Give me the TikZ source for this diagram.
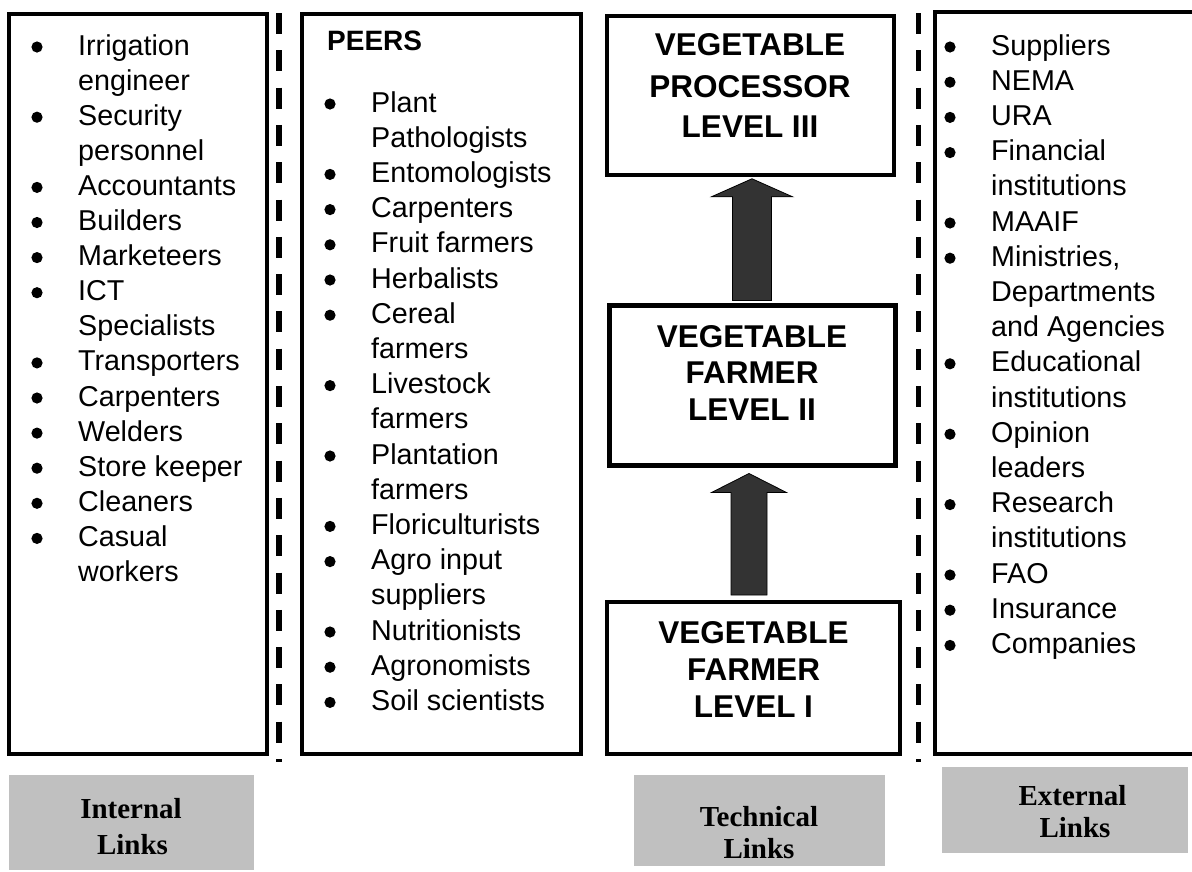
\documentclass[tikz,border=0pt]{standalone}
\usepackage{fontspec}
\setmainfont{Liberation Serif}
\newfontfamily\arialfont{Liberation Sans}
\usetikzlibrary{calc}
\definecolor{silvergray}{HTML}{C0C0C0}
\definecolor{arrowgray}{HTML}{333333}
\tikzset{
  frame/.style={draw=black, line width=4pt, inner sep=0pt, rectangle},
  divider/.style={draw=black, line width=5.5pt, dash pattern=on 21pt off 16.3pt},
  linkbox/.style={fill=silvergray, inner sep=0pt, rectangle},
  listitem/.style={anchor=base west, inner sep=0pt, font=\arialfont\fontsize{28.7}{35}\selectfont},
  bulletdot/.style={fill=black},
  boxtitle/.style={anchor=base, inner sep=0pt, font=\arialfont\bfseries\fontsize{31.5}{38}\selectfont},
  linklabel/.style={anchor=base, inner sep=0pt, font=\bfseries\fontsize{29}{34}\selectfont},
  blockarrow/.style={fill=arrowgray, draw=black, line width=0.8pt},
}
\begin{document}
\begin{tikzpicture}[x=1pt,y=-1pt]
\useasboundingbox (0,0) rectangle (1192,871);

% column frames
\node[frame, minimum width=258pt, minimum height=740pt] (internal) at (138,384) {};
\node[frame, minimum width=278.5pt, minimum height=740.5pt] (peers) at (441.25,383.75) {};
\node[frame, line width=3.5pt, minimum width=287pt, minimum height=159pt] (b3) at (750.5,95.5) {};
\node[frame, line width=5pt, minimum width=286pt, minimum height=160pt] (b4) at (752,385) {};
\node[frame, minimum width=293pt, minimum height=152pt] (b5) at (753.5,678) {};
\node[frame, minimum width=261.5pt, minimum height=742pt] (external) at (1065.25,383) {};

% dashed dividers
\coordinate (d1top) at (279,13);
\coordinate (d1bot) at (279,762);
\coordinate (d2top) at (918.5,13);
\coordinate (d2bot) at (918.5,762);
\draw[divider] (d1top) -- (d1bot);
\draw[divider] (d2top) -- (d2bot);

% block arrows
\filldraw[blockarrow] let \p1=(b4.north), \p2=(b3.south) in
  (\x1-19.5pt,\y1+2pt) -- (\x1-19.5pt,\y2-20pt) -- (\x1-40.5pt,\y2-20pt) -- (\x1,\y2-2pt)
  -- (\x1+40.5pt,\y2-20pt) -- (\x1+19.5pt,\y2-20pt) -- (\x1+19.5pt,\y1+2pt) -- cycle;
\filldraw[blockarrow] let \p1=($(b5.north)+(-4.5,0)$), \p2=(b4.south) in
  (\x1-18pt,\y1+5pt) -- (\x1-18pt,\y2-25pt) -- (\x1-37.5pt,\y2-25pt) -- (\x1,\y2-6pt)
  -- (\x1+37.5pt,\y2-25pt) -- (\x1+18pt,\y2-25pt) -- (\x1+18pt,\y1+5pt) -- cycle;

% internal list
\foreach \b/\t [count=\i from 0] in {1/Irrigation,0/engineer,1/Security,0/personnel,1/Accountants,1/Builders,1/Marketeers,1/ICT,0/Specialists,1/Transporters,1/Carpenters,1/Welders,1/Store keeper,1/Cleaners,1/Casual,0/workers}{
  \node[listitem] (ia\i) at (78,{55+35.1*\i}) {\t};
  \ifnum\b=1 \fill[bulletdot] ($(ia\i.base west)+(-41,-8)$) circle (5.6pt);\fi
}

% peers list
\node[boxtitle, anchor=base west, font=\arialfont\bfseries\fontsize{28}{34}\selectfont] (peerstitle) at (327,50) {PEERS};
\foreach \b/\t [count=\i from 0] in {1/Plant,0/Pathologists,1/Entomologists,1/Carpenters,1/Fruit farmers,1/Herbalists,1/Cereal,0/farmers,1/Livestock,0/farmers,1/Plantation,0/farmers,1/Floriculturists,1/Agro input,0/suppliers,1/Nutritionists,1/Agronomists,1/Soil scientists}{
  \node[listitem] (pa\i) at (371,{112+35.2*\i}) {\t};
  \ifnum\b=1 \fill[bulletdot] ($(pa\i.base west)+(-41,-8)$) circle (5.6pt);\fi
}

% external list
\foreach \b/\t [count=\i from 0] in {1/Suppliers,1/NEMA,1/URA,1/Financial,0/institutions,1/MAAIF,1/{Ministries,},0/Departments,0/and Agencies,1/Educational,0/institutions,1/Opinion,0/leaders,1/Research,0/institutions,1/FAO,1/Insurance,1/Companies}{
  \node[listitem] (ea\i) at (991,{55+35.2*\i}) {\t};
  \ifnum\b=1 \fill[bulletdot] ($(ea\i.base west)+(-41,-8)$) circle (5.6pt);\fi
}

% level box titles
\node[boxtitle] (t3a) at (750,55) {VEGETABLE};
\node[boxtitle] (t3b) at (750,97) {PROCESSOR};
\node[boxtitle] (t3c) at (750,137) {LEVEL III};
\node[boxtitle] (t4a) at (752,347) {VEGETABLE};
\node[boxtitle] (t4b) at (752,383.5) {FARMER};
\node[boxtitle] (t4c) at (752,420) {LEVEL II};
\node[boxtitle] (t5a) at (753.5,643) {VEGETABLE};
\node[boxtitle] (t5b) at (753.5,680) {FARMER};
\node[boxtitle] (t5c) at (753.5,717) {LEVEL I};

% link labels
\node[linkbox, minimum width=245pt, minimum height=95pt] (ilinks) at (131.5,822.5) {};
\node[linkbox, minimum width=251pt, minimum height=91pt] (tlinks) at (759.5,820.5) {};
\node[linkbox, minimum width=246pt, minimum height=86pt] (elinks) at (1065,810) {};
\node[linklabel] (il1) at (131,818) {Internal};
\node[linklabel] (il2) at (132.5,854) {Links};
\node[linklabel] (tl1) at (759,826) {Technical};
\node[linklabel] (tl2) at (759,858) {Links};
\node[linklabel] (el1) at (1072.5,805) {External};
\node[linklabel] (el2) at (1075,837) {Links};
\end{tikzpicture}
\end{document}
